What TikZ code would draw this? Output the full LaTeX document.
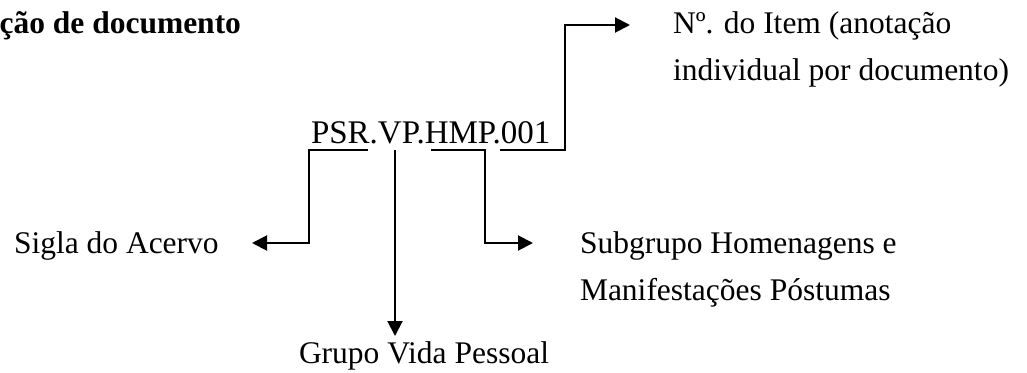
\documentclass[tikz,border=0pt]{standalone}
\usepackage{fontspec}
\setmainfont{Liberation Serif}
\usetikzlibrary{arrows.meta}
\tikzset{
  lbl/.style={inner sep=0pt, outer sep=0pt, font=\fontsize{31.5}{47}\selectfont},
  conn/.style={line width=2pt, line join=miter},
  arr/.style={conn, -{Triangle[length=15pt,width=15pt]}}
}
\begin{document}
\begin{tikzpicture}[x=1pt,y=-1pt]
\useasboundingbox (0,0) rectangle (1027,372);
% texts
\node[lbl, anchor=base east, font=\fontsize{31.5}{47}\selectfont\bfseries] (title) at (241,33) {ção de documento};
\node[lbl, anchor=base west, font=\fontsize{33}{47}\selectfont] (code) at (311,143) {PSR.VP.HMP.001};
\node[lbl, anchor=base west] (sigla) at (14,253) {Sigla do Acervo};
\node[lbl, anchor=base west] (grupo) at (299,363) {Grupo Vida Pessoal};
\node[lbl, anchor=base west, align=left] (sub) at (580,300) {Subgrupo Homenagens e\\Manifestações Póstumas};
\node[lbl, anchor=base west, align=left] (item) at (673,80) {Nº. do Item (anotação\\individual por documento)};
% connector points
\coordinate (psrR) at (368,150);
\coordinate (psrL) at (309,150);
\coordinate (vp) at (395,150);
\coordinate (hmpL) at (431,150);
\coordinate (hmpR) at (485,150);
\coordinate (numL) at (500,150);
\coordinate (numR) at (565,150);
\coordinate (sigTip) at (252,243);
\coordinate (grpTip) at (395,336);
\coordinate (subTip) at (533,243);
\coordinate (itemTip) at (630,25);
% connectors
\draw[arr] (psrR) -- (psrL) |- (sigTip);
\draw[arr] (vp) -- (grpTip);
\draw[arr] (hmpL) -- (hmpR) |- (subTip);
\draw[arr] (numL) -- (numR) |- (itemTip);
\end{tikzpicture}
\end{document}
